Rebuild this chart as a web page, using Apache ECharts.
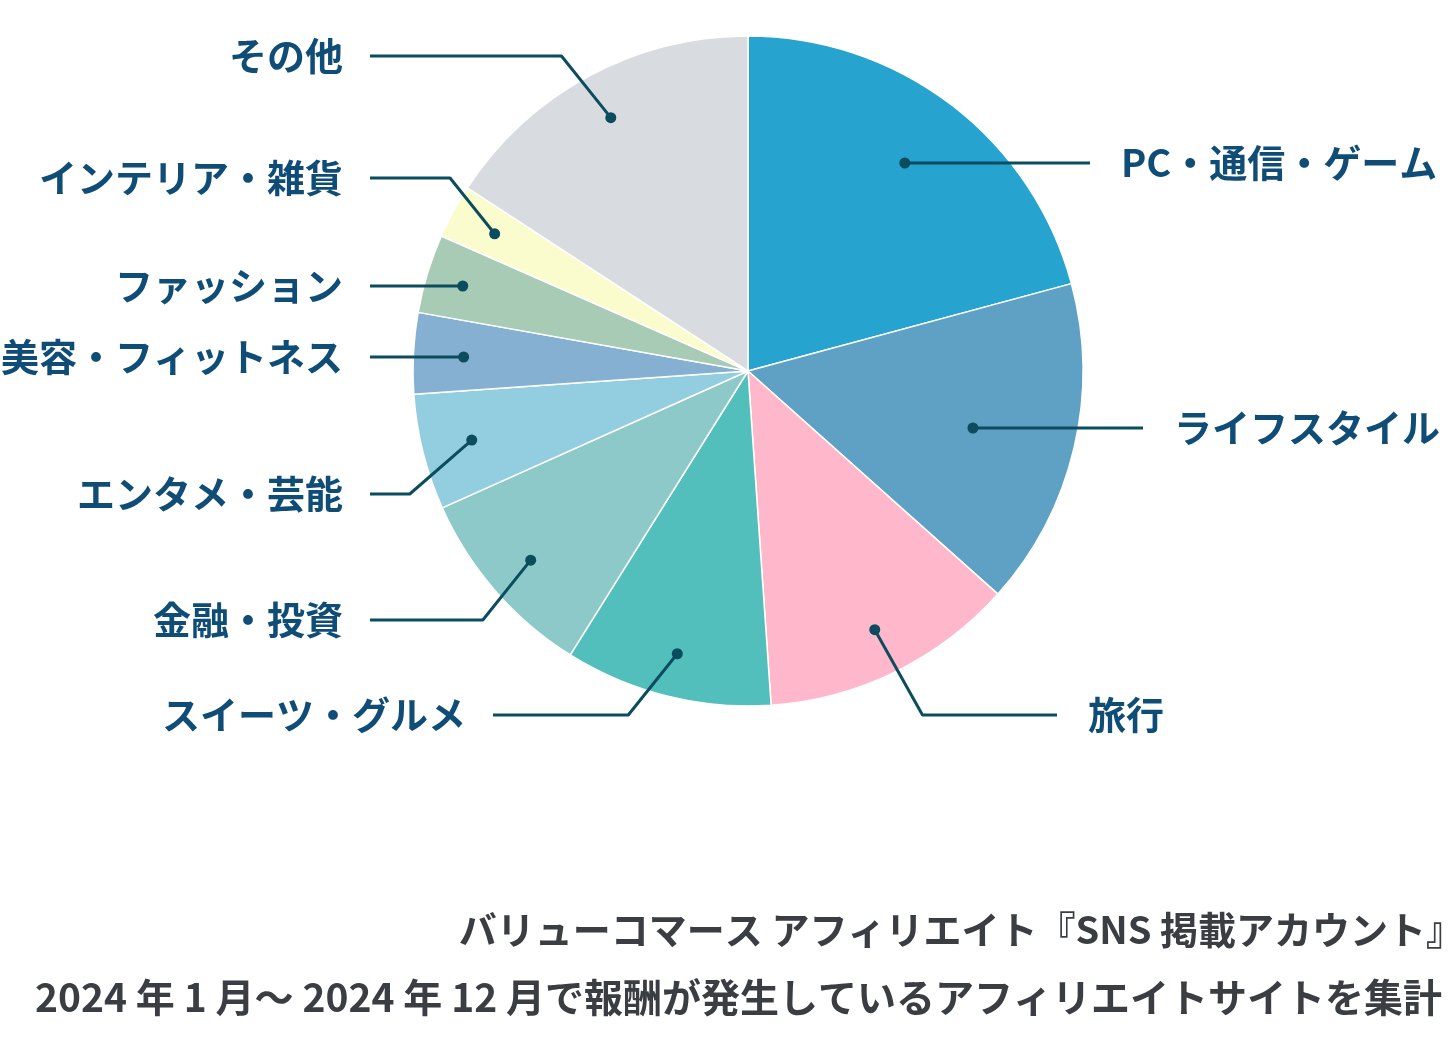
<!DOCTYPE html>
<html>
<head>
<meta charset="utf-8">
<title>SNS掲載アカウント ジャンル別構成</title>
<script src="https://cdn.jsdelivr.net/npm/echarts@6/dist/echarts.min.js"></script>
<style>
html, body { margin: 0; padding: 0; background: #fff; }
#chart { width: 1450px; height: 1055px; }
</style>
</head>
<body>
<div id="chart"></div>
<script>
// ジャンル別の割合（%）
var categories = ['PC・通信・ゲーム', 'ライフスタイル', '旅行', 'スイーツ・グルメ', '金融・投資',
	'エンタメ・芸能', '美容・フィットネス', 'ファッション', 'インテリア・雑貨', 'その他'];
var shares = [20.8, 15.8, 12.3, 10.0, 9.4, 5.6, 3.9, 3.8, 2.6, 15.8];
var colors = ['#26a3cf', '#5fa1c5', '#ffb8cb', '#52bfbc', '#8dc9c9',
	'#93cde0', '#85b0d1', '#a8cbb6', '#fafccd', '#d8dbe0'];
var notes = [
	'バリューコマース アフィリエイト『SNS 掲載アカウント』',
	'2024 年 1 月〜 2024 年 12 月で報酬が発生しているアフィリエイトサイトを集計'
];

// ラベルと引き出し線の配置
var labelY = [163, 428, 715, 715, 620, 494, 357, 286, 178, 56];
var lineEndX = [1090, 1143, 1057, 493, 370, 370, 370, 370, 370, 370];
var dotR = [0.77, 0.69, 0.86, 0.87, 0.86, 0.85, 0.85, 0.89, 0.86, 0.86];
var bendK = [0.8, 0.8, 0.56, 0.8, 0.8, 1.15, 0.8, 0.8, 0.8, 0.8];

var CX = 748, CY = 371, R = 335;
var LINE_COLOR = '#0b4c5f';
var LABEL_COLOR = '#0f4d77';
var FONT = 'Noto Sans CJK JP';

// 各スライスの中心角から点・折れ点・終点を求める
var total = 0;
shares.forEach(function(v){ total += v; });
var acc = 0;
var guides = shares.map(function(v, i){
	var mid = (acc + v / 2) / total * 360;
	acc += v;
	var a = mid * Math.PI / 180;
	var r = R * dotR[i];
	var dot = [CX + r * Math.sin(a), CY - r * Math.cos(a)];
	var left = lineEndX[i] < dot[0];
	var dy = labelY[i] - dot[1];
	var elbow;
	if( Math.abs(dy) < 25 ){	// ほぼ水平なら点を線の高さに合わせる
		dot[1] = labelY[i];
		elbow = dot.slice();
	}else{
		elbow = [dot[0] + (left ? -1 : 1) * Math.abs(dy) * bendK[i], labelY[i]];
	}
	return {
		dot: dot,
		elbow: elbow,
		end: [lineEndX[i], labelY[i]],
		left: left
	};
});

// 画面座標 -> 極座標 [半径比, 角度]
function toPolar(p){
	var dx = p[0] - CX, dy = p[1] - CY;
	var ang = Math.atan2(dx, -dy) * 180 / Math.PI;
	if( ang < 0 ) ang += 360;
	return [Math.sqrt(dx * dx + dy * dy) / R, ang];
}

var pieData = categories.map(function(name, i){
	return { name: name, value: shares[i], itemStyle: { color: colors[i] } };
});

var series = [{
	type: 'pie',
	center: [CX, CY],
	radius: R,
	startAngle: 90,
	clockwise: true,
	avoidLabelOverlap: false,
	silent: true,
	itemStyle: { borderColor: '#fff', borderWidth: 1.5 },
	label: {
		show: true,
		position: 'outside',
		formatter: '{b}',
		color: LABEL_COLOR,
		fontSize: 38,
		fontWeight: 'bold',
		fontFamily: FONT
	},
	labelLine: { show: false },
	labelLayout: function(params){
		var g = guides[params.dataIndex];
		return {
			x: g.left ? g.end[0] - 27 : g.end[0] + 31,
			y: g.end[1],
			align: g.left ? 'right' : 'left',
			verticalAlign: 'middle'
		};
	},
	data: pieData
}];

// 引き出し線（先端に丸）
guides.forEach(function(g, i){
	series.push({
		type: 'line',
		name: categories[i],
		coordinateSystem: 'polar',
		clip: false,
		silent: true,
		z: 5,
		lineStyle: { color: LINE_COLOR, width: 3 },
		itemStyle: { color: LINE_COLOR, opacity: 1 },
		data: [
			{ value: toPolar(g.dot), symbol: 'circle', symbolSize: 11 },
			{ value: toPolar(g.elbow), symbol: 'none' },
			{ value: toPolar(g.end), symbol: 'none' }
		]
	});
});

var chart = echarts.init(document.getElementById('chart'));
chart.setOption({
	animation: false,
	backgroundColor: '#fff',
	title: [
		{
			text: notes[0], right: -14, top: 910, padding: 0,
			textStyle: { color: '#3a3d42', fontSize: 38, fontWeight: 'bold', lineHeight: 40, fontFamily: FONT }
		},
		{
			text: notes[1], right: 8, top: 977, padding: 0,
			textStyle: { color: '#3a3d42', fontSize: 39, fontWeight: 'bold', lineHeight: 40, fontFamily: FONT }
		}
	],
	// 半径軸は円の半径を 1 とし、ラベル側まで届くよう 2 まで取る
	polar: { center: [CX, CY], radius: R * 2 },
	angleAxis: { type: 'value', min: 0, max: 360, startAngle: 90, clockwise: true, show: false },
	radiusAxis: { type: 'value', min: 0, max: 2, show: false },
	series: series
});
</script>
</body>
</html>
